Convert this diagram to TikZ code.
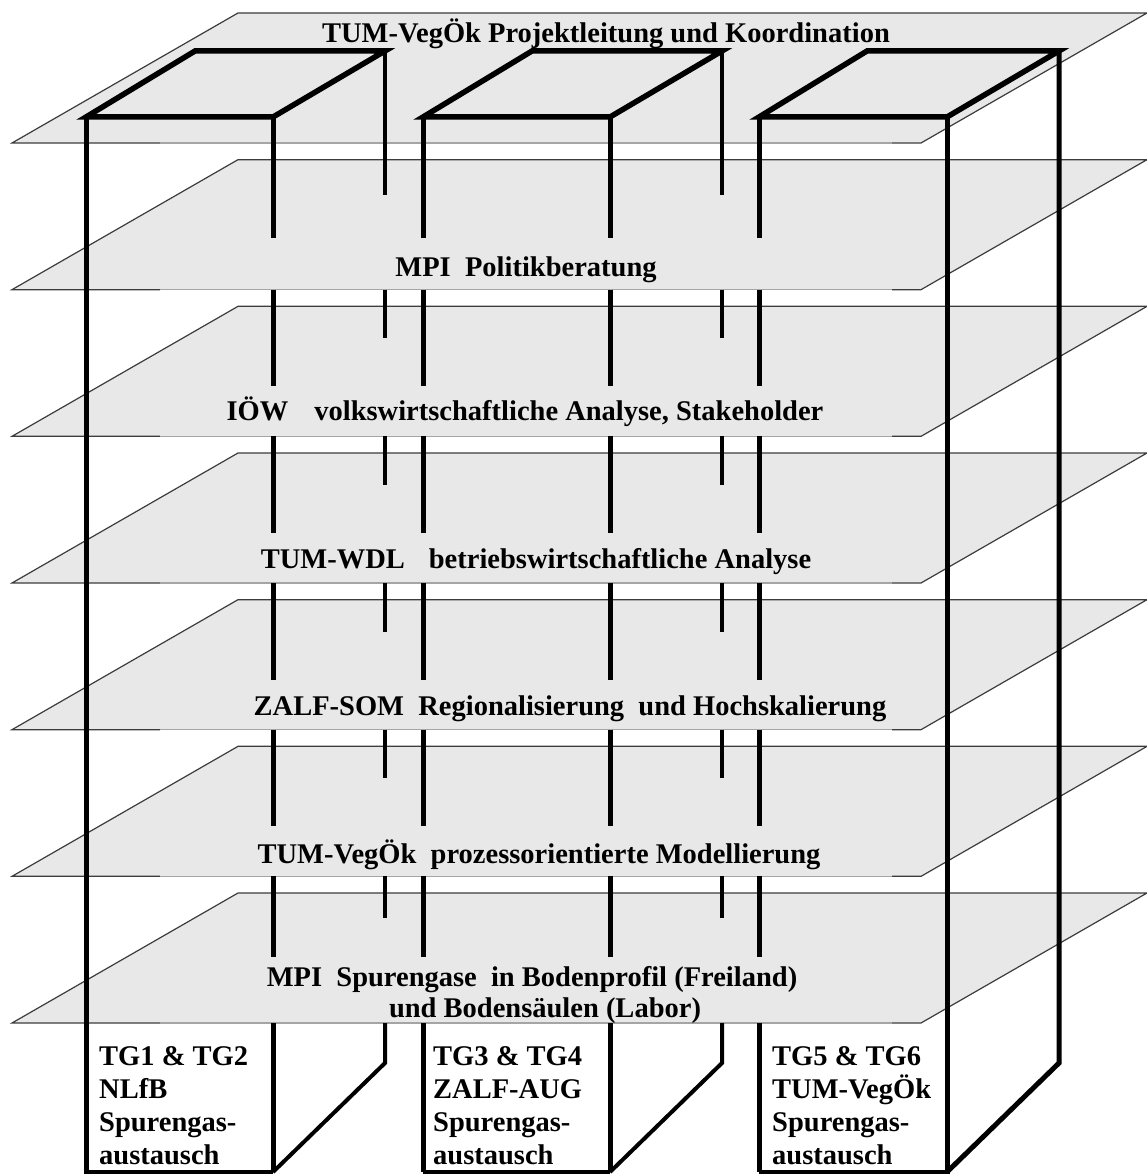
\documentclass[tikz,border=0pt]{standalone}
\usepackage{fontspec}
\setmainfont{Liberation Serif}
\definecolor{planefill}{RGB}{232,232,232}
\definecolor{edgedark}{RGB}{60,60,60}
\definecolor{edgelight}{RGB}{165,165,165}
\begin{document}
\begin{tikzpicture}[x=1pt,y=-1pt,
  planeedge/.style={draw=edgedark, line width=1.2pt, line join=miter},
  bandedge/.style={draw=edgelight, line width=1.2pt},
  frontline/.style={line width=5pt},
  backline/.style={line width=4pt},
  topedge/.style={line width=5.5pt, line join=miter},
  lbl/.style={font=\fontsize{28.5}{32}\selectfont\bfseries, inner sep=0pt, anchor=base},
  tglbl/.style={font=\fontsize{28.5}{33}\selectfont\bfseries, inner sep=0pt, align=left, anchor=north west}]
\useasboundingbox (0,0) rectangle (1147,1174);
\fill[white] (0,0) rectangle (1147,1174);

% planes
\foreach \k in {0,...,6}{
  \pgfmathsetmacro\B{143+\k*146.667}
  \pgfmathsetmacro\T{\B-130}
  \fill[planefill] (12,\B) -- (238,\T) -- (1147,\T) -- (921,\B) -- cycle;
  \draw[planeedge] (160,\B) -- (12,\B) -- (238,\T) -- (1147,\T) -- (921,\B) -- (892,\B);
  \draw[bandedge] (160,\B) -- (892,\B);
}

% box tops
\draw[topedge] (86,117) -- (273,117) -- (385,51) -- (195,51) -- cycle;
\draw[topedge] (423,117) -- (610,117) -- (722,51) -- (532,51) -- cycle;
\draw[topedge] (759,117) -- (947,117) -- (1059,51) -- (867,51) -- cycle;

% continuous outer verticals
\draw[frontline] (86,117) -- (86,1172) -- (273,1172);
\draw[frontline] (947,117) -- (947,1172) -- (759,1172);
\draw[frontline] (423,1172) -- (610,1172);
\draw[frontline, line join=miter] (1059,51) -- (1059,1063) -- (947,1172);

% interior front verticals (segments)
\foreach \x in {273,423,610,759}{
  \draw[frontline] (\x,117) -- (\x,238);
  \foreach \k in {1,...,4}{
    \pgfmathsetmacro\Ba{143+\k*146.667}
    \pgfmathsetmacro\Bb{143+(\k+1)*146.667-50}
    \draw[frontline] (\x,\Ba) -- (\x,\Bb);
  }
  \draw[frontline] (\x,876.3) -- (\x,957);
  \draw[frontline] (\x,1023) -- (\x,1172);
}

% interior back verticals (segments)
\foreach \x/\fx in {385/273,722/610}{
  \draw[backline] (\x,51) -- (\x,195);
  \foreach \k in {1,...,4}{
    \pgfmathsetmacro\Ba{143+\k*146.667}
    \pgfmathsetmacro\Bb{143+(\k+1)*146.667-98}
    \draw[backline] (\x,\Ba) -- (\x,\Bb);
  }
  \draw[backline] (\x,876.3) -- (\x,918);
  \draw[backline, line join=miter] (\x,1023) -- (\x,1063) -- (\fx,1172);
}

% plane labels
\node[lbl] (p1) at (606,43) {TUM-VegÖk Projektleitung und Koordination};
\node[lbl] (p2) at (526,276) {MPI\ \ Politikberatung};
\node[lbl] (p3) at (525,420) {IÖW\hspace{26pt}volkswirtschaftliche Analyse, Stakeholder};
\node[lbl] (p4) at (536,568) {TUM-WDL\hspace{24pt}betriebswirtschaftliche Analyse};
\node[lbl] (p5) at (570,715) {ZALF-SOM\ \ Regionalisierung\ \ und Hochskalierung};
\node[lbl] (p6) at (539,863) {TUM-VegÖk\ \ prozessorientierte Modellierung};
\node[lbl] (p7a) at (532,986) {MPI\ \ Spurengase\ \ in Bodenprofil (Freiland)};
\node[lbl] (p7b) at (545,1017) {und Bodensäulen (Labor)};

% column labels
\node[tglbl] (tg1) at (99,1046) {TG1 \& TG2\\NLfB\\Spurengas-\\austausch};
\node[tglbl] (tg3) at (433,1046) {TG3 \& TG4\\ZALF-AUG\\Spurengas-\\austausch};
\node[tglbl] (tg5) at (772,1046) {TG5 \& TG6\\TUM-VegÖk\\Spurengas-\\austausch};
\end{tikzpicture}
\end{document}
